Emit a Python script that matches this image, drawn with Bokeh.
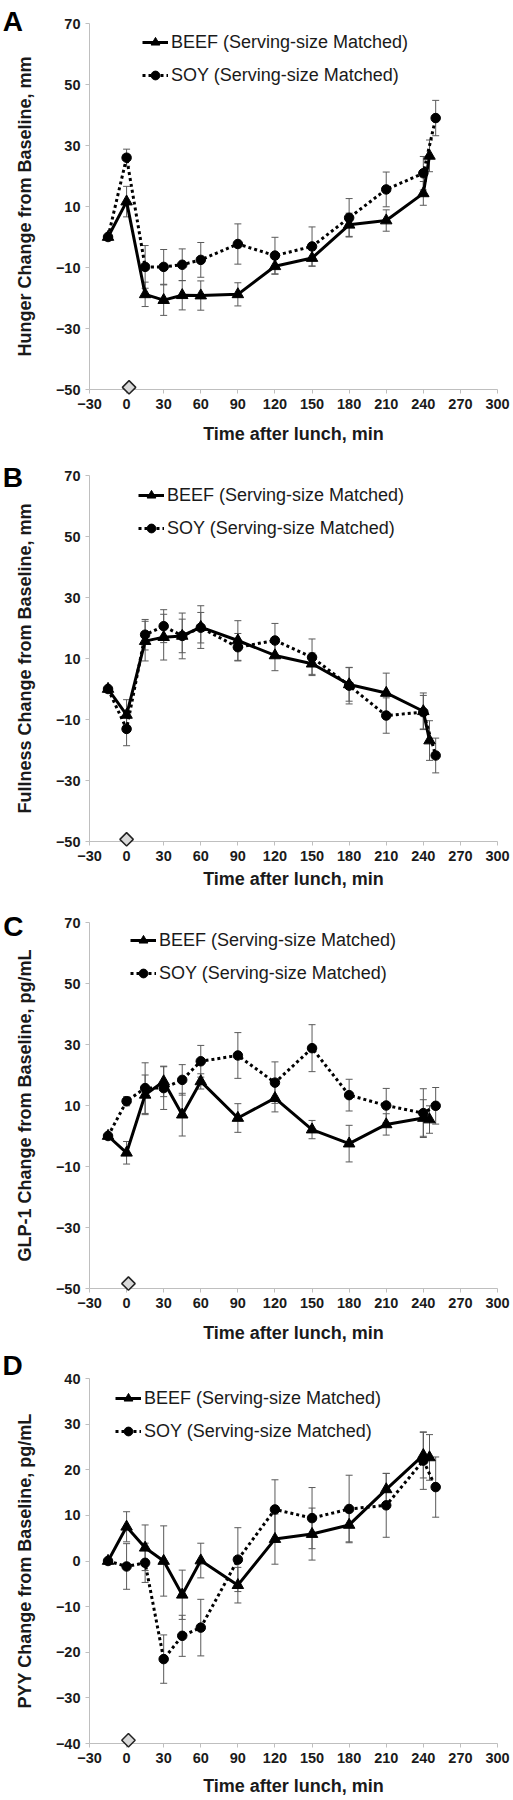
import math
from bokeh.plotting import figure
from bokeh.models import (Range1d, FixedTicker, ColumnDataSource, Whisker, TeeHead,
                          Legend, LegendItem)
from bokeh.core.properties import value
from bokeh.layouts import column
from bokeh.embed import file_html
from bokeh.resources import INLINE

# ---------------- data ----------------
time_beef = [-15, 0, 15, 30, 45, 60, 90, 120, 150, 180, 210, 240, 245]
time_soy = [-15, 0, 15, 30, 45, 60, 90, 120, 150, 180, 210, 240, 250]
x_ticks = [-30, 0, 30, 60, 90, 120, 150, 180, 210, 240, 270, 300]

hunger_beef = [0, 11.6, -18.8, -20.7, -19.1, -19.2, -18.8, -9.6, -6.9, 4.0, 5.4, 14.3, 26.6]
hunger_beef_err = [0, 5, 4.0, 5, 4.8, 4.8, 3.8, 2.6, 2.7, 3.8, 3.5, 3.9, 5.2]
hunger_soy = [0, 26.0, -9.8, -9.8, -9.1, -7.5, -2.3, -6.1, -3.1, 6.3, 15.6, 20.9, 39.0]
hunger_soy_err = [0, 2.8, 7, 5.7, 5.2, 5.7, 6.6, 6, 6.4, 6.3, 5.7, 5.5, 5.8]
hunger_yticks = [-50, -30, -10, 10, 30, 50, 70]

fullness_beef = [0, -8.5, 15.7, 17.0, 17.4, 20.3, 15.9, 11.0, 8.3, 1.5, -1.3, -7.3, -16.9]
fullness_beef_err = [0, 5, 6.5, 7.5, 7.5, 7, 6.5, 5, 3.5, 5.5, 6.5, 6, 6.5]
fullness_soy = [0, -13.1, 17.8, 20.6, 17.4, 20.1, 13.7, 15.9, 10.4, 1.1, -8.7, -7.6, -21.8]
fullness_soy_err = [0, 5.5, 5, 5.4, 5.5, 5, 4.5, 5.6, 6, 6, 5.8, 5.5, 5.7]
fullness_yticks = [-50, -30, -10, 10, 30, 50, 70]

glp1_beef = [0, -5.5, 13.5, 17.9, 7.0, 17.9, 5.9, 12.4, 2.1, -2.5, 3.8, 5.9, 5.4]
glp1_beef_err = [0, 3.7, 6.5, 5, 7, 2.5, 4.7, 4.5, 3, 6, 3.5, 6, 4.5]
glp1_soy = [0, 11.4, 15.7, 15.7, 18.4, 24.5, 26.4, 17.5, 28.8, 13.4, 10.0, 7.5, 9.9]
glp1_soy_err = [0, 1.5, 8.3, 7, 5, 5.2, 7.5, 6.8, 7.7, 5.2, 5.6, 8, 6]
glp1_yticks = [-50, -30, -10, 10, 30, 50, 70]

pyy_beef = [0, 7.5, 2.9, 0, -7.4, 0.1, -5.3, 4.8, 5.9, 7.9, 15.7, 23.2, 22.7]
pyy_beef_err = [0, 3.3, 5, 7.7, 5.4, 3.8, 3.9, 5.5, 5.7, 3.7, 3.5, 5, 5]
pyy_soy = [0, -1.2, -0.4, -21.5, -16.4, -14.6, 0.3, 11.3, 9.4, 11.4, 12.2, 22.0, 16.2]
pyy_soy_err = [0, 5, 4.3, 5.3, 4.5, 6.2, 7, 6.5, 6.7, 7.4, 7, 6.3, 6.6]
pyy_yticks = [-40, -30, -20, -10, 0, 10, 20, 30, 40]

lunch_marker_x = [2, 0, 1.5, 1.5]
lunch_marker_y = [-49.3, -49.3, -48.4, -39.3]

panel_letters = ["A", "B", "C", "D"]
beef_label = "BEEF (Serving-size Matched)"
soy_label = "SOY (Serving-size Matched)"
x_title = "Time after lunch, min"

FONT = "Liberation Sans"
AXIS_COLOR = "#bfbfbf"
TEXT_COLOR = "#1a1a1a"
ERR_COLOR = "#5a5a5a"
FIG_W = 513
LEFT = 89


def make_panel(letter, ylabel, yticks, beef, beef_err, soy, soy_err, dx, dy,
               height, top, bottom, right, legend_x, legend_gap,
               x_title_standoff, letter_base, letter_left):
    frame_h = height - top - bottom
    frame_w = FIG_W - LEFT - right
    x0, x1 = x_ticks[0], x_ticks[-1]
    y0, y1 = yticks[0], yticks[-1]
    p = figure(width=FIG_W, height=height,
               x_range=Range1d(x0, x1), y_range=Range1d(y0, y1),
               output_backend="svg", toolbar_location=None,
               min_border_left=LEFT, min_border_right=right,
               min_border_top=top, min_border_bottom=bottom)
    p.outline_line_color = None
    p.grid.visible = False
    p.background_fill_color = "white"
    p.border_fill_color = "white"

    for ax in (p.xaxis[0], p.yaxis[0]):
        ax.axis_line_color = AXIS_COLOR
        ax.axis_line_width = 1
        ax.major_tick_line_color = AXIS_COLOR
        ax.major_tick_in = 0
        ax.major_tick_out = 4
        ax.minor_tick_line_color = None
        ax.major_label_text_font = FONT
        ax.major_label_text_font_style = "bold"
        ax.major_label_text_font_size = "14.5px"
        ax.major_label_text_color = TEXT_COLOR
        ax.axis_label_text_font = FONT
        ax.axis_label_text_font_style = "bold"
        ax.axis_label_text_font_size = "18px"
        ax.axis_label_text_color = TEXT_COLOR
        ax.major_label_standoff = 5

    p.xaxis.ticker = FixedTicker(ticks=x_ticks)
    p.yaxis.ticker = FixedTicker(ticks=yticks)
    p.xaxis.axis_label = x_title
    p.yaxis.axis_label = ylabel
    p.xaxis.axis_label_standoff = x_title_standoff
    p.yaxis.axis_label_standoff = 18

    src_b = ColumnDataSource(dict(x=time_beef, y=beef,
                                  lo=[v - e for v, e in zip(beef, beef_err)],
                                  hi=[v + e for v, e in zip(beef, beef_err)]))
    src_s = ColumnDataSource(dict(x=time_soy, y=soy,
                                  lo=[v - e for v, e in zip(soy, soy_err)],
                                  hi=[v + e for v, e in zip(soy, soy_err)]))

    for src in (src_s, src_b):
        w = Whisker(source=src, base="x", upper="hi", lower="lo",
                    line_color=ERR_COLOR, line_width=1,
                    upper_head=TeeHead(size=7, line_color=ERR_COLOR, line_width=1),
                    lower_head=TeeHead(size=7, line_color=ERR_COLOR, line_width=1))
        p.add_layout(w)

    ls = p.line("x", "y", source=src_s, line_color="black", line_width=3,
                line_dash="3 3")
    ms = p.scatter("x", "y", source=src_s, marker="circle", size=9.5,
                   fill_color="black", line_color="black", line_width=1)
    lb = p.line("x", "y", source=src_b, line_color="black", line_width=3)
    mb = p.scatter("x", "y", source=src_b, marker="triangle", size=11.5,
                   fill_color="black", line_color="black", line_width=1)

    p.scatter(x=[dx], y=[dy], marker="square", angle=math.pi / 4, size=9.5,
              fill_color="#d9d9d9", line_color="#222222", line_width=1.5,
              level="overlay")

    item_h = 22
    spacing = 11
    legend_h = 2 * item_h + spacing
    leg = Legend(items=[LegendItem(label=beef_label, renderers=[lb, mb]),
                        LegendItem(label=soy_label, renderers=[ls, ms])],
                 location=(legend_x, frame_h - legend_gap - legend_h),
                 orientation="vertical",
                 label_text_font=FONT, label_text_font_size="18px",
                 label_text_color=TEXT_COLOR,
                 glyph_width=26, glyph_height=item_h, label_height=item_h,
                 label_standoff=3, spacing=spacing, padding=0, margin=0,
                 border_line_color=None, background_fill_alpha=0)
    p.add_layout(leg, "center")

    # panel letter, positioned through the data scales (outside the frame)
    px_x = (x1 - x0) / frame_w
    px_y = (y1 - y0) / frame_h
    p.text(x=[x0 - (LEFT - letter_left) * px_x],
           y=[y1 + (top - letter_base) * px_y],
           text=[letter],
           text_font=value(FONT), text_font_style="bold",
           text_font_size="28px", text_color="black",
           text_baseline="alphabetic", text_align="left",
           level="overlay")
    return p


pa = make_panel(panel_letters[0], "Hunger Change from Baseline, mm", hunger_yticks,
                hunger_beef, hunger_beef_err, hunger_soy, hunger_soy_err,
                lunch_marker_x[0], lunch_marker_y[0],
                height=450, top=23, bottom=61, right=15, legend_x=53, legend_gap=8,
                x_title_standoff=12, letter_base=21, letter_left=2)
pb = make_panel(panel_letters[1], "Fullness Change from Baseline, mm", fullness_yticks,
                fullness_beef, fullness_beef_err, fullness_soy, fullness_soy_err,
                lunch_marker_x[1], lunch_marker_y[1],
                height=450, top=25, bottom=59, right=15, legend_x=49, legend_gap=9,
                x_title_standoff=5, letter_base=27, letter_left=2)
pc = make_panel(panel_letters[2], "GLP-1 Change from Baseline, pg/mL", glp1_yticks,
                glp1_beef, glp1_beef_err, glp1_soy, glp1_soy_err,
                lunch_marker_x[2], lunch_marker_y[2],
                height=445, top=22, bottom=54, right=12, legend_x=41, legend_gap=10,
                x_title_standoff=12, letter_base=26, letter_left=2)
pd_ = make_panel(panel_letters[3], "PYY Change from Baseline, pg/mL", pyy_yticks,
                 pyy_beef, pyy_beef_err, pyy_soy, pyy_soy_err,
                 lunch_marker_x[3], lunch_marker_y[3],
                 height=455, top=33, bottom=57, right=16, legend_x=26, legend_gap=9,
                 x_title_standoff=10, letter_base=20, letter_left=2)

layout = column(pa, pb, pc, pd_, spacing=0)
open("out.html", "w").write(file_html(layout, INLINE))
